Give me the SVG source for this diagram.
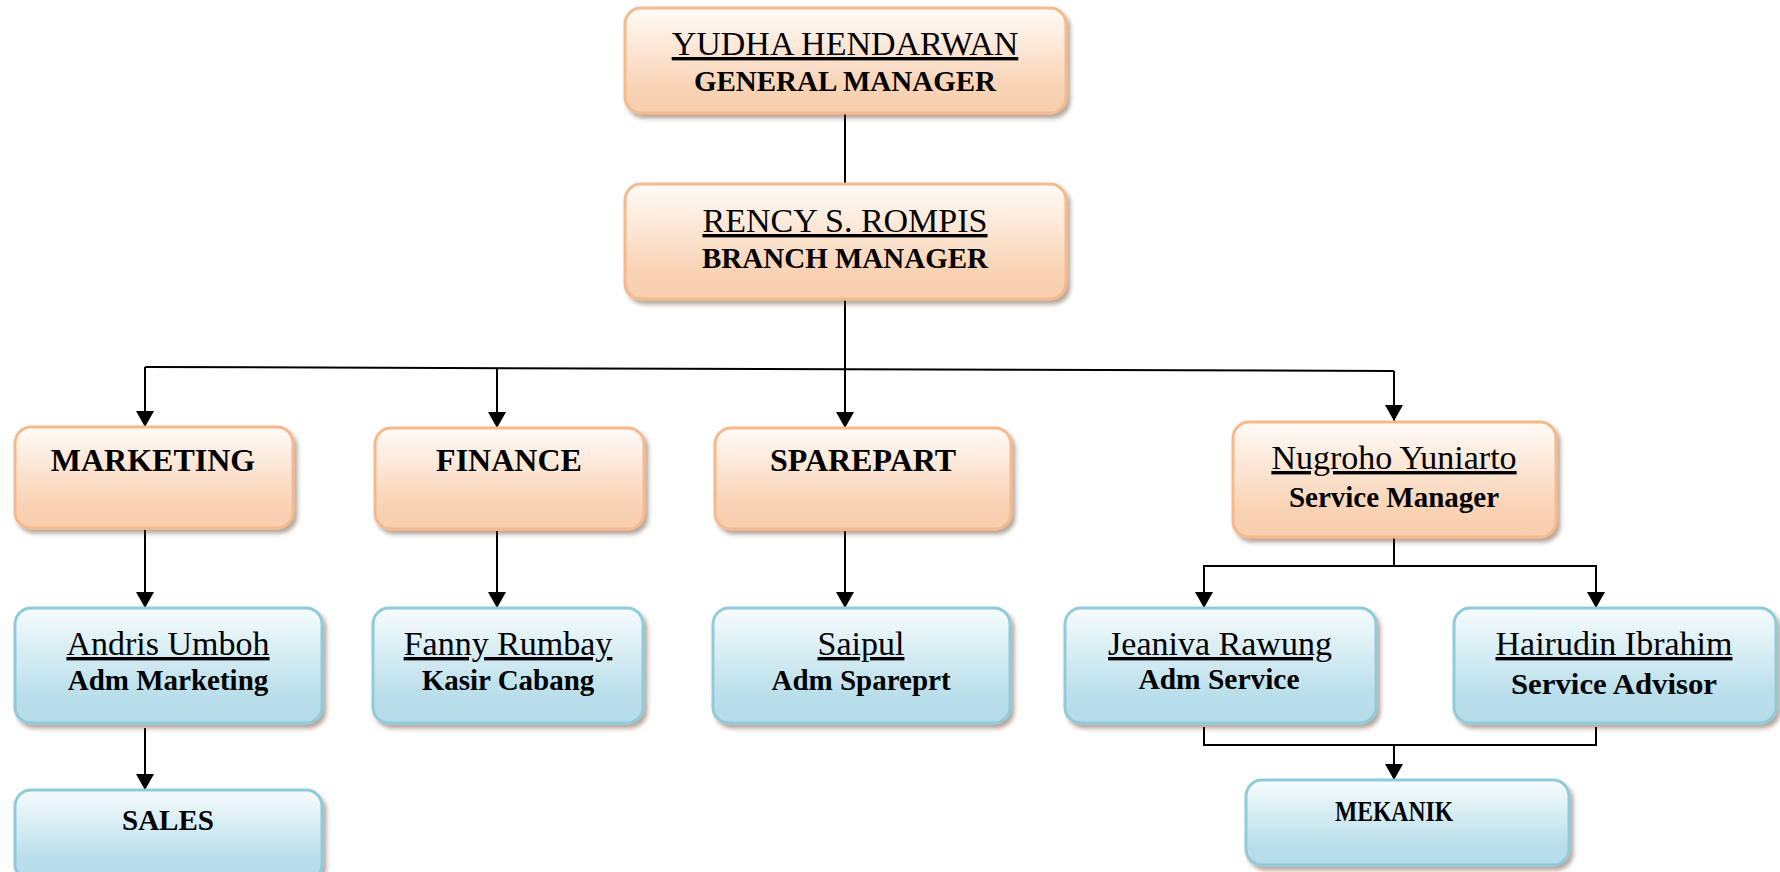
<svg xmlns="http://www.w3.org/2000/svg" width="1780" height="872" viewBox="0 0 1780 872">
<defs>
<linearGradient id="gO" x1="0" y1="0" x2="0" y2="1">
<stop offset="0" stop-color="#fffbf8"/>
<stop offset="0.75" stop-color="#f9d3b5"/>
<stop offset="1" stop-color="#f8cfae"/>
</linearGradient>
<linearGradient id="gB" x1="0" y1="0" x2="0" y2="1">
<stop offset="0" stop-color="#f7fcfd"/>
<stop offset="0.75" stop-color="#badfea"/>
<stop offset="1" stop-color="#b5dce8"/>
</linearGradient>
<filter id="sh" x="-5%" y="-10%" width="115%" height="130%">
<feDropShadow dx="3" dy="4" stdDeviation="2" flood-color="#5a3a20" flood-opacity="0.45"/>
</filter>
<marker id="arr" viewBox="0 0 16 18" refX="16" refY="9" markerWidth="16" markerHeight="18" markerUnits="userSpaceOnUse" orient="auto">
<path d="M0,0 L16,9 L0,18 Z" fill="#000"/>
</marker>
<style>
.o{fill:url(#gO);stroke:#f5b98c;stroke-width:3;filter:url(#sh)}
.b{fill:url(#gB);stroke:#8fcbda;stroke-width:3;filter:url(#sh)}
.nm{font-family:"Liberation Serif",serif;font-size:34px;text-anchor:middle;text-decoration:underline;fill:#000}
.tt{font-family:"Liberation Serif",serif;font-size:29px;font-weight:bold;text-anchor:middle;fill:#000}
.hd{font-family:"Liberation Serif",serif;font-size:32px;font-weight:bold;text-anchor:middle;fill:#000}
.ln{stroke:#000;stroke-width:2;fill:none}
.ar{stroke:#000;stroke-width:2;fill:none;marker-end:url(#arr)}
</style>
</defs>
<rect width="1780" height="872" fill="#fff"/>
<g id="connectors">
<line class="ln" x1="845" y1="113" x2="845" y2="184"/>
<line class="ln" x1="845" y1="300" x2="845" y2="369"/>
<line class="ln" x1="145" y1="367" x2="1394" y2="371"/>
<line class="ar" x1="145" y1="367" x2="145" y2="427"/>
<line class="ar" x1="497" y1="368.5" x2="497" y2="428"/>
<line class="ar" x1="845" y1="369" x2="845" y2="428"/>
<line class="ar" x1="1394" y1="371" x2="1394" y2="421"/>
<line class="ar" x1="145" y1="530" x2="145" y2="608"/>
<line class="ar" x1="497" y1="531" x2="497" y2="608"/>
<line class="ar" x1="845" y1="531" x2="845" y2="608"/>
<line class="ar" x1="145" y1="728" x2="145" y2="790"/>
<polyline class="ln" points="1394,538 1394,566"/>
<polyline class="ar" points="1394,566 1204,566 1204,608"/>
<polyline class="ar" points="1394,566 1596,566 1596,608"/>
<polyline class="ln" points="1204,727 1204,745 1596,745 1596,727"/>
<line class="ar" x1="1394" y1="745" x2="1394" y2="780"/>
</g>
<g id="gm">
<rect class="o" x="625" y="8" width="441" height="105" rx="16"/>
<text class="nm" x="845" y="55">YUDHA HENDARWAN</text>
<text class="tt" x="845" y="91">GENERAL MANAGER</text>
</g>
<g id="bm">
<rect class="o" x="625" y="184" width="441" height="115" rx="16"/>
<text class="nm" x="845" y="232">RENCY S. ROMPIS</text>
<text class="tt" x="845" y="268">BRANCH MANAGER</text>
</g>
<g id="marketing">
<rect class="o" x="15" y="427" width="278" height="101" rx="16"/>
<text class="hd" x="153" y="471">MARKETING</text>
</g>
<g id="finance">
<rect class="o" x="375" y="428" width="269" height="101" rx="16"/>
<text class="hd" x="509" y="471">FINANCE</text>
</g>
<g id="sparepart">
<rect class="o" x="715" y="428" width="296" height="101" rx="16"/>
<text class="hd" x="863" y="471">SPAREPART</text>
</g>
<g id="service-manager">
<rect class="o" x="1233" y="422" width="323" height="115" rx="16"/>
<text class="nm" x="1394" y="469">Nugroho Yuniarto</text>
<text class="tt" x="1394" y="507" font-size="30">Service Manager</text>
</g>
<g id="andris">
<rect class="b" x="15" y="608" width="307" height="115" rx="16"/>
<text class="nm" x="168" y="655">Andris Umboh</text>
<text class="tt" x="168" y="690">Adm Marketing</text>
</g>
<g id="fanny">
<rect class="b" x="373" y="608" width="270" height="115" rx="16"/>
<text class="nm" x="508" y="655">Fanny Rumbay</text>
<text class="tt" x="508" y="690">Kasir Cabang</text>
</g>
<g id="saipul">
<rect class="b" x="713" y="608" width="297" height="115" rx="16"/>
<text class="nm" x="861" y="655">Saipul</text>
<text class="tt" x="861" y="690">Adm Spareprt</text>
</g>
<g id="jeaniva">
<rect class="b" x="1065" y="608" width="311" height="115" rx="16"/>
<text class="nm" x="1220" y="655">Jeaniva Rawung</text>
<text class="tt" x="1219" y="689" font-size="31" textLength="161" lengthAdjust="spacingAndGlyphs">Adm Service</text>
</g>
<g id="hairudin">
<rect class="b" x="1454" y="608" width="322" height="115" rx="16"/>
<text class="nm" x="1614" y="655">Hairudin Ibrahim</text>
<text class="tt" x="1614" y="694" font-size="32" textLength="206" lengthAdjust="spacingAndGlyphs">Service Advisor</text>
</g>
<g id="sales">
<rect class="b" x="15" y="790" width="307" height="90" rx="16"/>
<text class="tt" x="168" y="830">SALES</text>
</g>
<g id="mekanik">
<rect class="b" x="1246" y="780" width="323" height="85" rx="16"/>
<text class="tt" x="1394" y="821" font-size="33" textLength="118" lengthAdjust="spacingAndGlyphs">MEKANIK</text>
</g>
</svg>
